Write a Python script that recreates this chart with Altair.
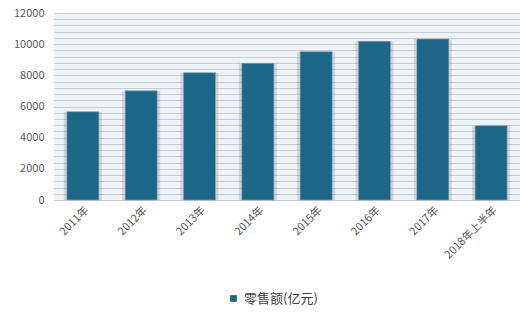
import altair as alt
import pandas as pd

categories = ["2011年", "2012年", "2013年", "2014年", "2015年", "2016年", "2017年", "2018年上半年"]
values = [5670, 7010, 8170, 8770, 9520, 10180, 10330, 4770]
series_name = "零售额(亿元)"

df = pd.DataFrame({"category": categories, "value": values, "series": series_name})

FONT = "Noto Sans CJK SC"
BAR = "#1c6688"

x_enc = alt.X("category:N", sort=categories, title=None,
              scale=alt.Scale(paddingInner=0.45, paddingOuter=0.22),
              axis=alt.Axis(labelAngle=-45, labelAlign="right", labelBaseline="top",
                            labelFont=FONT, labelFontSize=11, labelColor="#595959",
                            ticks=False, domain=True, domainColor="#c8c8c8",
                            labelPadding=4, labelOverlap=False))
y_enc = alt.Y("value:Q", title=None,
              scale=alt.Scale(domain=[0, 12000], nice=False),
              axis=alt.Axis(values=list(range(0, 12001, 400)),
                            labelExpr="datum.value % 2000 === 0 ? datum.label : ''",
                            format="d", labelOverlap=False,
                            labelFont=FONT, labelFontSize=11, labelColor="#595959",
                            ticks=False, domain=False, labelPadding=10,
                            grid=True, gridColor="#c9cdd2", gridWidth=1))

shadow = alt.Chart(df).mark_bar(size=38, color="#808080", opacity=0.25).encode(
    x=x_enc, y=y_enc)

bars = alt.Chart(df).mark_bar(size=32, stroke="#7fa6bb", strokeWidth=0.6).encode(
    x=x_enc, y=y_enc,
    color=alt.Color("series:N", title=None,
                    scale=alt.Scale(domain=[series_name], range=[BAR]),
                    legend=alt.Legend(orient="none", legendX=168, legendY=274,
                                      symbolType="square", symbolSize=45,
                                      labelFont=FONT, labelFontSize=13, labelColor="#404040",
                                      fillColor="white", padding=5,
                                      symbolStrokeWidth=0)))

chart = alt.layer(shadow, bars).properties(
    width=466, height=187,
    autosize=alt.AutoSizeParams(type="none"),
    padding={"left": 54, "top": 13, "right": 0, "bottom": 112},
    background="white",
).configure_view(fill="#eef3f8", stroke=None)

chart.save("out.html", embed_options={"renderer": "svg", "actions": False})
